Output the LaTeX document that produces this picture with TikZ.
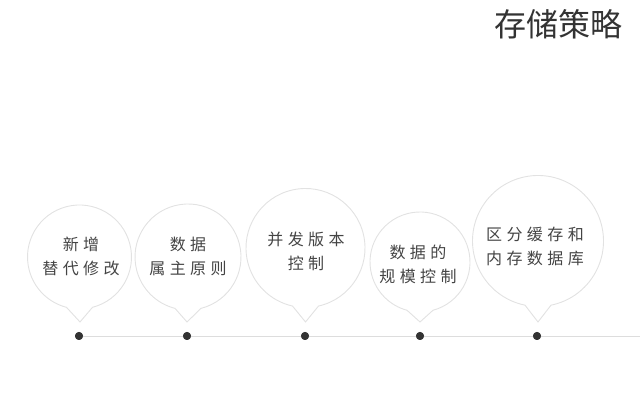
\documentclass[tikz,border=0pt]{standalone}
\usepackage{fontspec}
\setmainfont{Noto Sans CJK SC}
\newfontfamily\cjk{Noto Sans CJK SC}
\makeatletter
\newcommand\lsp[1]{\@tfor\lspc:=#1\do{\kern2.2pt\lspc\kern2.2pt}}
\makeatother
\definecolor{rim}{HTML}{E2E2E2}
\definecolor{txt}{HTML}{444444}
\definecolor{ttl}{HTML}{333333}
\definecolor{axis}{HTML}{DDDDDD}
\definecolor{dotc}{HTML}{333333}
\tikzset{
  bubblebox/.style={draw=rim, fill=white, line width=0.9pt},
  labeltext/.style={text=txt, align=center, font={\cjk\fontsize{16}{24}\selectfont}, inner sep=0pt},
  dotnode/.style={circle, fill=dotc, minimum size=8pt, inner sep=0pt},
}
\newcommand\bubble[5]{% name, cx, cy, r, tipx
  \node[circle, minimum size=2*#4 pt, inner sep=0pt] (#1) at (#2,#3) {};
  \coordinate (#1tip) at (#5,97);
  \pgfmathsetmacro\dd{asin(13/#4)}
  \draw[bubblebox] (#1tip) -- ([shift={(270+\dd:#4)}]#1.center)
     arc[start angle=270+\dd, end angle=630-\dd, radius=#4] -- cycle;
}
\begin{document}
\begin{tikzpicture}[x=1pt,y=1pt]
\useasboundingbox (0,0) rectangle (640,419);
\node[text=ttl, font={\cjk\fontsize{32}{32}\selectfont}, anchor=east, inner sep=0pt] (title) at (623,395) {存储策略};

\node[dotnode] (d1) at (79,83) {};
\node[dotnode] (d2) at (187,83) {};
\node[dotnode] (d3) at (305,83) {};
\node[dotnode] (d4) at (420,83) {};
\node[dotnode] (d5) at (537,83) {};
\coordinate (axisend) at (640,83);
\draw[axis, line width=0.9pt] (d1.center) -- (axisend);
\foreach \n in {d1,d2,d3,d4,d5} \node[dotnode] at (\n) {};

\bubble{b1}{79.5}{162}{52}{80}
\bubble{b2}{188}{162}{53}{187}
\bubble{b3}{305.5}{171}{59.5}{305.5}
\bubble{b4}{420}{157}{50}{420}
\bubble{b5}{538}{178}{65.5}{538}

\node[labeltext] (t1) at (81,163) {\lsp{新增}\\\lsp{替代修改}};
\node[labeltext] (t2) at (188,162.5) {\lsp{数据}\\\lsp{属主原则}};
\node[labeltext] (t3) at (306,167.5) {\lsp{并发版本}\\\lsp{控制}};
\node[labeltext] (t4) at (418,155) {\lsp{数据的}\\\lsp{规模控制}};
\node[labeltext] (t5) at (535,172.5) {\lsp{区分缓存和}\\\lsp{内存数据库}};
\end{tikzpicture}
\end{document}
